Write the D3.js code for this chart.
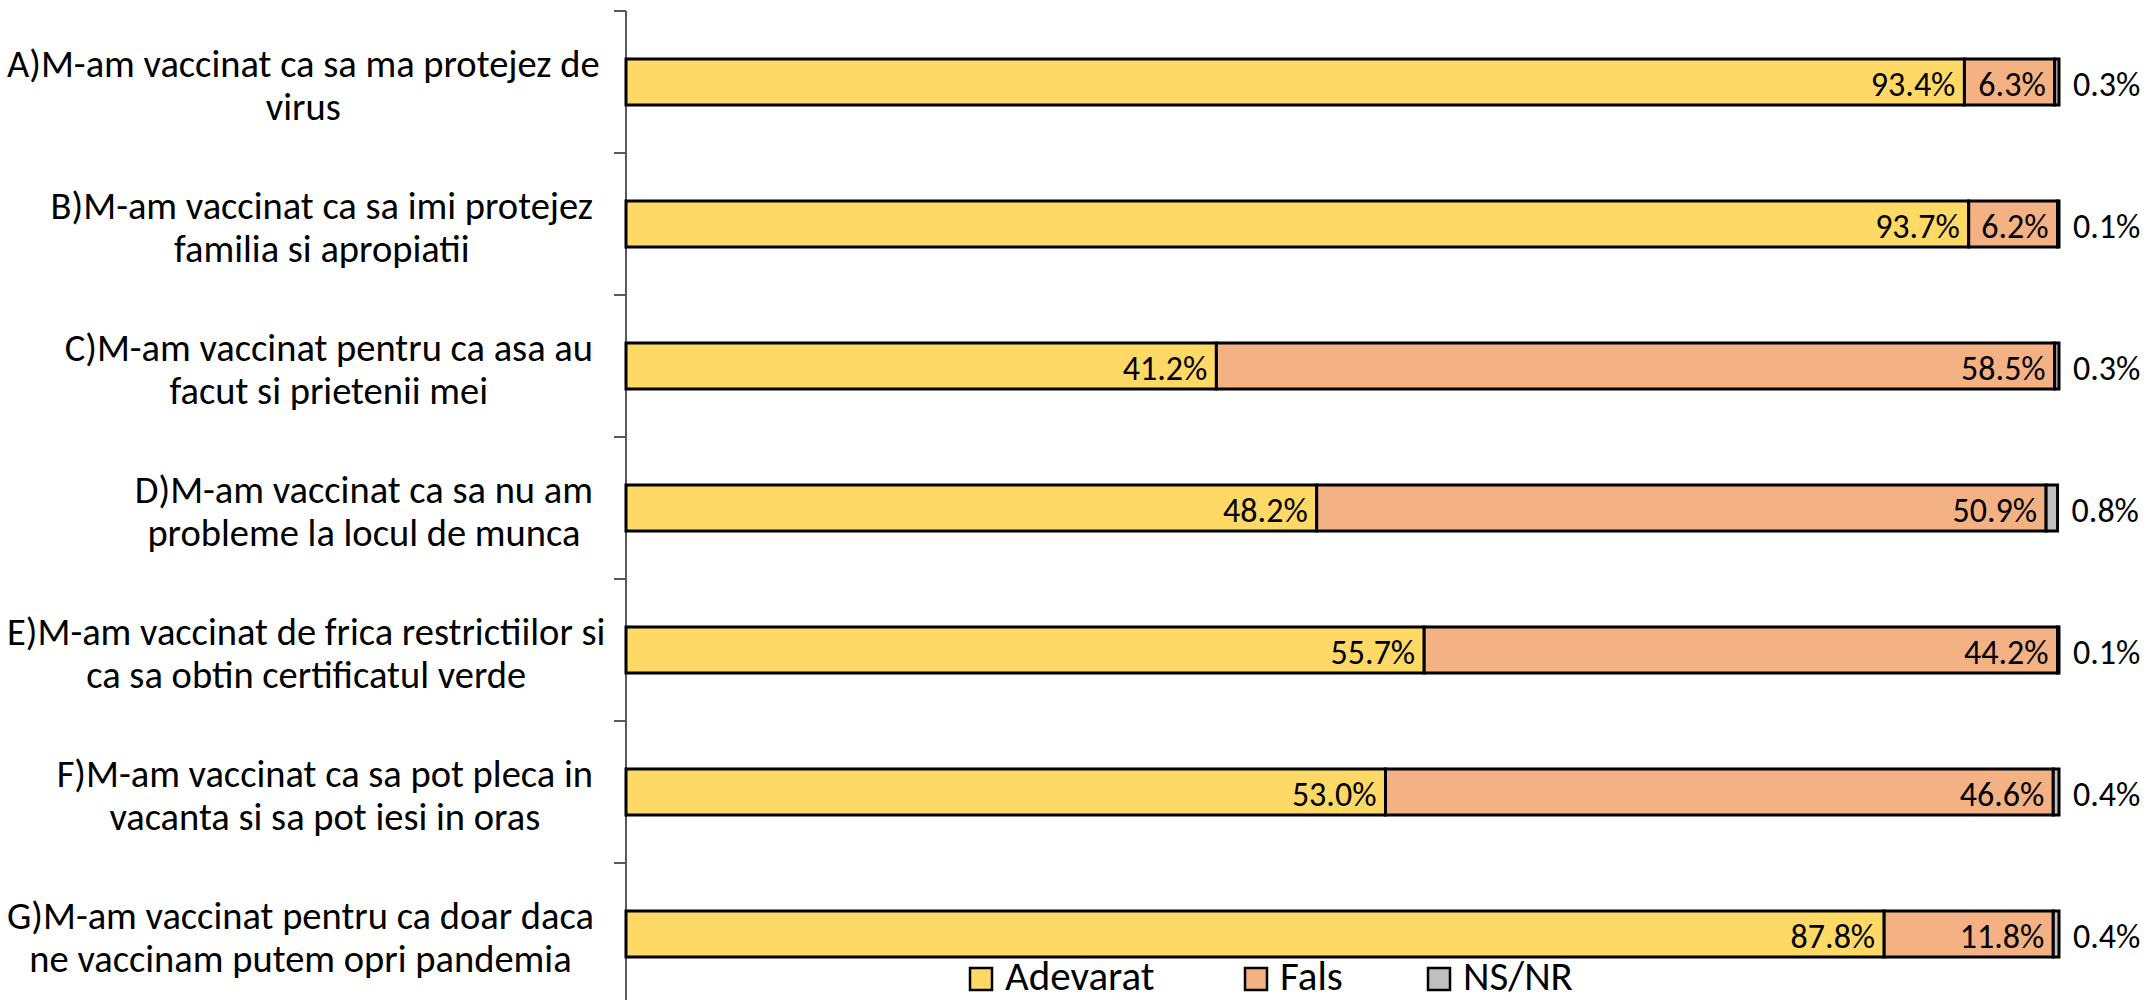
<!DOCTYPE html>
<html>
<head>
<meta charset="utf-8">
<script src="https://cdn.jsdelivr.net/npm/d3@7"></script>
<style>
  html, body { margin: 0; padding: 0; background: #fff; }
  svg { display: block; }
  text { font-family: Carlito, Calibri, Lato, "Open Sans", sans-serif; fill: #000; }
</style>
</head>
<body>
<svg id="chart" width="2148" height="1000"></svg>
<script>
// ---- data ----
const categories = [
  ["A)M-am vaccinat ca sa ma protejez de", "virus"],
  ["B)M-am vaccinat ca sa imi protejez", "familia si apropiatii"],
  ["C)M-am vaccinat pentru ca asa au", "facut si prietenii mei"],
  ["D)M-am vaccinat ca sa nu am", "probleme la locul de munca"],
  ["E)M-am vaccinat de frica restrictiilor si", "ca sa obtin certificatul verde"],
  ["F)M-am vaccinat ca sa pot pleca in", "vacanta si sa pot iesi in oras"],
  ["G)M-am vaccinat pentru ca doar daca", "ne vaccinam putem opri pandemia"]
];
const seriesNames = ["Adevarat", "Fals", "NS/NR"];
const adevarat = [93.4, 93.7, 41.2, 48.2, 55.7, 53.0, 87.8];
const fals     = [6.3, 6.2, 58.5, 50.9, 44.2, 46.6, 11.8];
const nsnr     = [0.3, 0.1, 0.3, 0.8, 0.1, 0.4, 0.4];
const xDomain = [0, 100];

// ---- layout ----
const colors = ["#FFD966", "#F4B183", "#BFBFBF"];
const svg = d3.select("#chart");
const axisX = 626, rightX = 2059;
const x = d3.scaleLinear().domain(xDomain).range([axisX, rightX]);
const keys = categories.map((c, i) => i);
const y = d3.scaleBand().domain(keys).range([11, 1005])
  .paddingInner(0.676).paddingOuter(0.338);

const rows = keys.map(i => ({i, vals: [adevarat[i], fals[i], nsnr[i]]}));
const stack = d3.stack().keys([0, 1, 2]).value((d, k) => d.vals[k]);
const stacked = stack(rows);

// axis line + ticks between categories
const g = svg.append("g");
const step = y.step();
const boundaries = d3.range(keys.length + 1).map(k => y.range()[0] + k * step);
g.append("line").attr("x1", axisX).attr("x2", axisX)
  .attr("y1", boundaries[0]).attr("y2", 1000)
  .attr("stroke", "#595959").attr("stroke-width", 2);
g.selectAll("line.tick").data(boundaries).join("line").attr("class", "tick")
  .attr("x1", axisX - 12).attr("x2", axisX)
  .attr("y1", d => d).attr("y2", d => d)
  .attr("stroke", "#595959").attr("stroke-width", 2);

// bars
const bars = svg.append("g");
stacked.forEach((layer, k) => {
  bars.selectAll(null).data(layer).join("rect")
    .attr("x", d => x(d[0]))
    .attr("y", d => y(d.data.i))
    .attr("width", d => Math.max(0, x(d[1]) - x(d[0])))
    .attr("height", y.bandwidth())
    .attr("fill", colors[k])
    .attr("stroke", "#000")
    .attr("stroke-width", 3);
});

// data labels
const lblSize = 34;
const labels = svg.append("g").attr("font-size", lblSize);
stacked.forEach((layer, k) => {
  labels.selectAll(null).data(layer).join("text")
    .attr("x", d => k < 2 ? x(d[1]) - 9 : x(d[1]) + 14)
    .attr("y", d => y(d.data.i) + y.bandwidth() / 2 + 2)
    .attr("text-anchor", k < 2 ? "end" : "start")
    .attr("dominant-baseline", "central")
    .text(d => d3.format(".1f")(d.data.vals[k]) + "%");
});

// category labels
const catSize = 38.5;
const catG = svg.append("g").attr("font-size", catSize);
const labelRight = 593, labelLeft = 7;
categories.forEach((lines, i) => {
  const c = y(i) + y.bandwidth() / 2;
  const t = catG.append("text").attr("text-anchor", "middle");
  lines.forEach((ln, j) => {
    t.append("tspan").attr("y", c + (j === 0 ? -19 : 24))
      .attr("dominant-baseline", "central").text(ln);
  });
  // right-align the centred block, but keep it inside the left edge
  const wmax = d3.max(t.selectAll("tspan").nodes(), n => n.getComputedTextLength());
  const cx = Math.max(labelRight - wmax / 2, labelLeft + wmax / 2);
  t.selectAll("tspan").attr("x", cx);
});

// legend
const legendItems = [
  {box: 970, text: 1005},
  {box: 1245, text: 1280},
  {box: 1428, text: 1463}
];
const lg = svg.append("g").attr("font-size", 41);
seriesNames.forEach((name, k) => {
  lg.append("rect").attr("x", legendItems[k].box).attr("y", 968)
    .attr("width", 22).attr("height", 22)
    .attr("fill", colors[k]).attr("stroke", "#000").attr("stroke-width", 2.5);
  lg.append("text").attr("x", legendItems[k].text).attr("y", 990)
    .text(name);
});
</script>
</body>
</html>
